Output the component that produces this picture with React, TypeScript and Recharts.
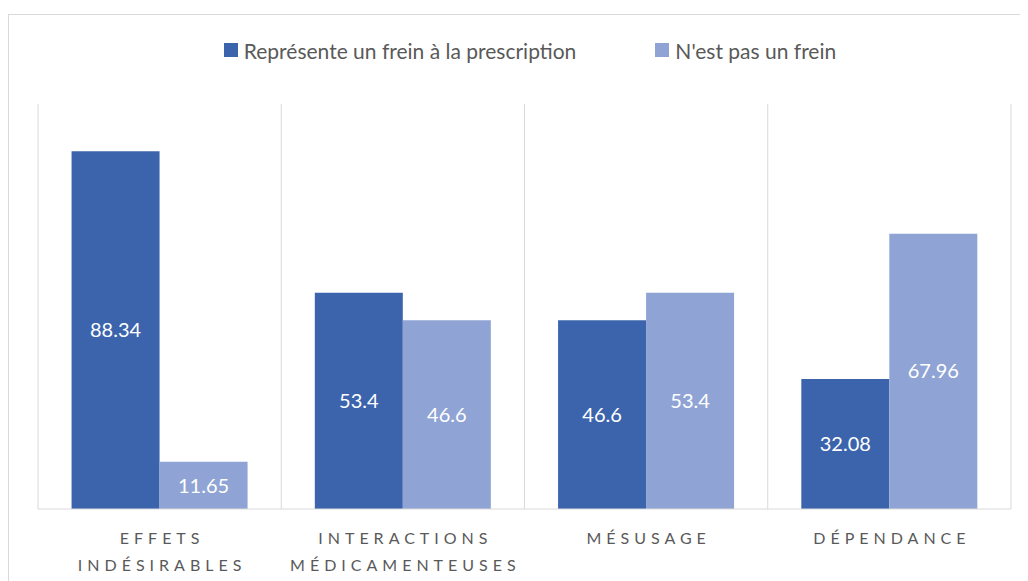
import * as React from 'react';
import {
  Bar,
  BarChart,
  CartesianGrid,
  LabelList,
  Legend,
  XAxis,
  YAxis,
} from 'recharts';

const CATEGORIES = [
  'Effets indésirables',
  'Interactions médicamenteuses',
  'Mésusage',
  'Dépendance',
];
const FREIN = [88.34, 53.4, 46.6, 32.08];
const PAS_FREIN = [11.65, 46.6, 53.4, 67.96];
const SERIES_NAMES = ['Représente un frein à la prescription', "N'est pas un frein"];

const DARK = '#3B64AD';
const LIGHT = '#8FA4D5';
const GRID = '#D9D9D9';
const TEXT = '#595959';
const FONT = 'Lato, "Open Sans", sans-serif';

const data = CATEGORIES.map((name, i) => ({
  name,
  frein: FREIN[i],
  pasFrein: PAS_FREIN[i],
}));

function CategoryTick({ x, y, payload }: any) {
  const words = String(payload.value).toUpperCase().split(' ');
  return (
    <text
      x={x}
      y={y}
      textAnchor='middle'
      fill={TEXT}
      fontSize={16}
      fontFamily={FONT}
      style={{ letterSpacing: 5 }}
    >
      {words.map((w, i) => (
        <tspan key={w} x={x + 2.5} y={y + 27 + i * 27}>
          {w}
        </tspan>
      ))}
    </text>
  );
}

function LegendContent() {
  const colors = [DARK, LIGHT];
  return (
    <div
      style={{
        height: 30,
        width: 1030,
        display: 'flex',
        justifyContent: 'center',
        alignItems: 'center',
        paddingLeft: 12,
        boxSizing: 'border-box',
        fontFamily: FONT,
        fontSize: 21,
        color: TEXT,
      }}
    >
      {SERIES_NAMES.map((n, i) => (
        <div
          key={n}
          style={{
            display: 'flex',
            alignItems: 'center',
            marginRight: i === 0 ? 79 : 0,
          }}
        >
          <span
            style={{
              width: 14,
              height: 14,
              background: colors[i],
              marginRight: 6,
              display: 'inline-block',
            }}
          />
          <span>{n}</span>
        </div>
      ))}
    </div>
  );
}

export default function App() {
  return (
    <div
      style={{
        width: 1020,
        height: 573,
        overflow: 'hidden',
        position: 'relative',
        fontFamily: FONT,
      }}
    >
      <style>{'body{margin:8px;overflow:hidden}'}</style>
      <div
        style={{
          position: 'absolute',
          top: 6,
          left: 0,
          width: 1040,
          height: 620,
          border: `1px solid ${GRID}`,
          background: '#fff',
        }}
      >
        <BarChart
          width={1030}
          height={600}
          data={data}
          margin={{ top: 59, right: 28, bottom: 76, left: 29 }}
          barCategoryGap='13.8%'
          barGap={0}
        >
          <CartesianGrid
            horizontal={false}
            stroke={GRID}
            verticalCoordinatesGenerator={({ offset }: any) =>
              CATEGORIES.map((_, i) => offset.left + (i * offset.width) / CATEGORIES.length).concat(
                offset.left + offset.width
              )
            }
          />
          <XAxis
            dataKey='name'
            axisLine={{ stroke: GRID }}
            tickLine={false}
            interval={0}
            tick={<CategoryTick />}
          />
          <YAxis hide domain={[0, 100]} />
          <Legend
            verticalAlign='top'
            content={<LegendContent />}
            wrapperStyle={{ top: 20, left: 0, width: 1030 }}
          />
          <Bar dataKey='frein' name={SERIES_NAMES[0]} fill={DARK} isAnimationActive={false}>
            <LabelList dataKey='frein' position='center' fill='#fff' fontSize={20} fontFamily={FONT} />
          </Bar>
          <Bar dataKey='pasFrein' name={SERIES_NAMES[1]} fill={LIGHT} isAnimationActive={false}>
            <LabelList dataKey='pasFrein' position='center' fill='#fff' fontSize={20} fontFamily={FONT} />
          </Bar>
        </BarChart>
      </div>
    </div>
  );
}
